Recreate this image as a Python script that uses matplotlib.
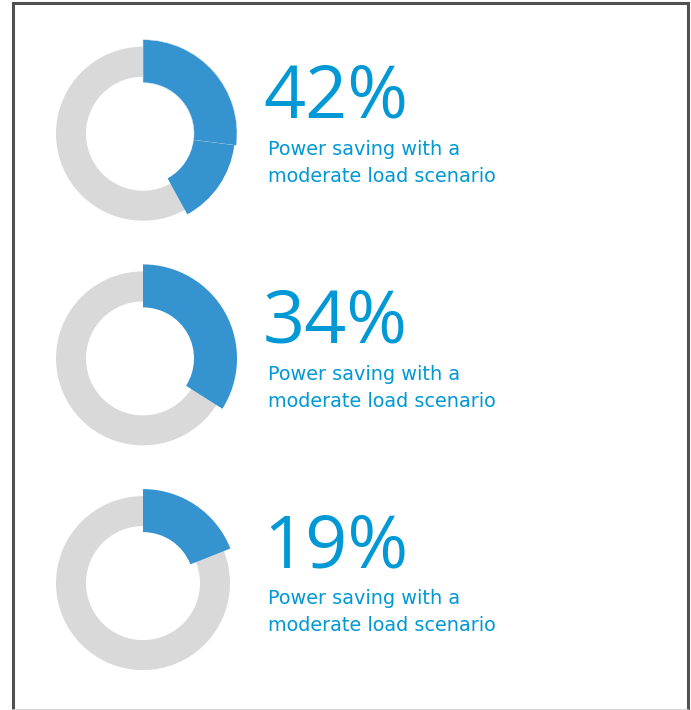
import matplotlib
matplotlib.use("Agg")
import matplotlib.pyplot as plt
from matplotlib.lines import Line2D

# datos
porcentajes = [42, 34, 19]
etiquetas = ["42%", "34%", "19%"]
descripcion = ["Power saving with a", "moderate load scenario"]
# el primer anillo viene partido en dos trozos en el original
segmentos = [[27, 15], [34], [19]]

AZUL = "#3593d0"
GRIS = "#d9d9d9"
TEXTO = "#0098d5"
W, H = 691, 710

fig = plt.figure(figsize=(W / 100, H / 100), dpi=100)
plt.rcParams["font.family"] = ["Open Sans", "DejaVu Sans"]

# marco
borde = "#505050"
fig.add_artist(Line2D([13 / W, 13 / W], [0, 1 - 3 / H], color=borde, lw=2.2))
fig.add_artist(Line2D([13 / W, 688 / W], [1 - 3 / H, 1 - 3 / H], color=borde, lw=2.2))
fig.add_artist(Line2D([688 / W, 688 / W], [0, 1 - 3 / H], color=borde, lw=2.2))
fig.add_artist(Line2D([13 / W, 688 / W], [0.5 / H, 0.5 / H], color="#d0d0d0", lw=1.2))

# Funcion para dibujar un anillo con su texto
def dibujar_anillo(i, segs, etiqueta):
    cy = 133.7 + 224.7 * i
    cx = 143
    ax = fig.add_axes([(cx - 100) / W, (H - cy - 100) / H, 200 / W, 200 / H])
    ax.pie([1], radius=87, colors=[GRIS], wedgeprops=dict(width=30, edgecolor="none"))
    resto = 100 - sum(segs)
    cunas, _ = ax.pie(segs + [resto], radius=94, startangle=90, counterclock=False,
                      colors=[AZUL] * len(segs) + ["none"],
                      wedgeprops=dict(width=43, edgecolor="none"))
    if len(segs) > 1:
        # segundo trozo un poco mas pequeno, como en el original
        cunas[1].set_radius(92)
        cunas[1].set_width(41)
        cunas[0].set_edgecolor("#cfe4f3")
        cunas[0].set_linewidth(0.4)
    ax.set_xlim(-100, 100)
    ax.set_ylim(-100, 100)
    ax.set_aspect("equal")
    ax.axis("off")

    fig.text(263 / W, 1 - (118 + 224.7 * i) / H, etiqueta, color=TEXTO,
             fontsize=53, fontweight="normal", va="baseline", ha="left")
    for j, linea in enumerate(descripcion):
        fig.text(268 / W, 1 - (155 + 27 * j + 224.7 * i) / H, linea, color=TEXTO,
                 fontsize=13.9, va="baseline", ha="left", family="DejaVu Sans")

for i in range(len(porcentajes)):
    dibujar_anillo(i, segmentos[i], etiquetas[i])

fig.savefig("out.png", dpi=100)
